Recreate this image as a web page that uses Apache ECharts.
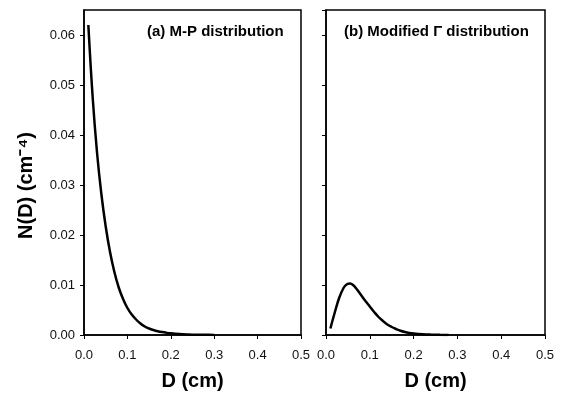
<!DOCTYPE html>
<html>
<head>
<meta charset="utf-8">
<script src="https://cdn.jsdelivr.net/npm/echarts@6/dist/echarts.min.js"></script>
<style>
  html, body { margin: 0; padding: 0; background: #fff; }
  #chart { width: 563px; height: 396px; }
</style>
</head>
<body>
<div id="chart"></div>
<script>
// D (cm) sample points
const mpD = [0.01, 0.02, 0.03, 0.04, 0.05, 0.06, 0.07, 0.08, 0.09, 0.10,
  0.11, 0.12, 0.13, 0.14, 0.15, 0.16, 0.17, 0.18, 0.19, 0.20,
  0.22, 0.24, 0.26, 0.28, 0.30];
const mpN = [0.0620, 0.0475, 0.0365, 0.0282, 0.0217, 0.0166, 0.0126, 0.0095, 0.0072, 0.0054,
  0.0041, 0.0031, 0.0023, 0.0017, 0.0013, 0.0010, 0.00076, 0.00058, 0.00044, 0.00033,
  0.00019, 0.00011, 0.00006, 0.00004, 0.00002];

const gammaD = [0.01, 0.02, 0.03, 0.04, 0.047, 0.055, 0.063, 0.07, 0.08, 0.09, 0.10,
  0.11, 0.12, 0.13, 0.14, 0.15, 0.16, 0.17, 0.18, 0.19, 0.20,
  0.22, 0.24, 0.26, 0.28];
const gammaN = [0.0013, 0.0045, 0.0074, 0.0094, 0.0101, 0.0103, 0.0099, 0.0092, 0.0080, 0.0068, 0.0057,
  0.0046, 0.0036, 0.0028, 0.0021, 0.0016, 0.0012, 0.00085, 0.0006, 0.00042, 0.0003,
  0.00015, 0.00007, 0.00003, 0.00001];

const panelTitles = ['(a) M-P distribution', '(b) Modified \u0393 distribution'];
const xName = 'D (cm)';
const yName = 'N(D) (cm\u207B\u2074)';

const FONT = 'Liberation Sans, Arial, sans-serif';
const INK = '#000';

const chart = echarts.init(document.getElementById('chart'));

const toPairs = (xs, ys) => xs.map((x, i) => [x, ys[i]]);

const xAxisBase = (gridIndex) => ({
  gridIndex,
  type: 'value',
  min: 0,
  max: 0.5,
  interval: 0.1,
  name: xName,
  nameLocation: 'middle',
  nameGap: 36,
  nameTextStyle: { color: INK, fontSize: 20, fontWeight: 'bold', fontFamily: FONT },
  axisLine: { onZero: false, lineStyle: { color: INK, width: 1.5 } },
  axisTick: { show: true, inside: false, length: 4, lineStyle: { color: INK } },
  axisLabel: {
    color: '#111',
    fontSize: 13,
    fontFamily: FONT,
    margin: 14,
    formatter: (v) => v.toFixed(1),
  },
  splitLine: { show: false },
});

const yAxisBase = (gridIndex, showLabels) => ({
  gridIndex,
  type: 'value',
  min: 0,
  max: 0.065,
  interval: 0.01,
  axisLine: { onZero: false, lineStyle: { color: INK, width: 1.5 } },
  axisTick: { show: true, inside: false, length: 4, lineStyle: { color: INK } },
  axisLabel: {
    show: showLabels,
    showMaxLabel: false,
    color: '#111',
    fontSize: 13,
    fontFamily: FONT,
    margin: 9,
    formatter: (v) => (v > 0.0601 ? '' : v.toFixed(2)),
  },
  splitLine: { show: false },
});

const titleStyle = { color: INK, fontSize: 15, fontWeight: 'bold', fontFamily: FONT };

const option = {
  backgroundColor: '#fff',
  animation: false,
  title: [
    { text: panelTitles[0], left: 147, top: 24, padding: 0, textStyle: titleStyle },
    { text: panelTitles[1], left: 344, top: 24, padding: 0, textStyle: titleStyle },
  ],
  grid: [
    { left: 84, right: 262, top: 10, bottom: 58, show: true, borderColor: INK, borderWidth: 1.5 },
    { left: 326, right: 18, top: 10, bottom: 58, show: true, borderColor: INK, borderWidth: 1.5 },
  ],
  xAxis: [xAxisBase(0), xAxisBase(1)],
  yAxis: [
    Object.assign(yAxisBase(0, true), {
      name: yName,
      nameLocation: 'middle',
      nameRotate: 90,
      nameGap: 48,
      nameTextStyle: {
        color: INK,
        fontSize: 20,
        fontWeight: 'bold',
        fontFamily: FONT,
        padding: [0, 26, 0, 0],
      },
    }),
    yAxisBase(1, false),
  ],
  series: [
    {
      type: 'line',
      xAxisIndex: 0,
      yAxisIndex: 0,
      data: toPairs(mpD, mpN),
      smooth: 0.4,
      showSymbol: false,
      lineStyle: { color: INK, width: 2.5 },
    },
    {
      type: 'line',
      xAxisIndex: 1,
      yAxisIndex: 1,
      data: toPairs(gammaD, gammaN),
      smooth: 0.4,
      showSymbol: false,
      lineStyle: { color: INK, width: 2.5 },
    },
  ],
};

chart.setOption(option);
</script>
</body>
</html>
